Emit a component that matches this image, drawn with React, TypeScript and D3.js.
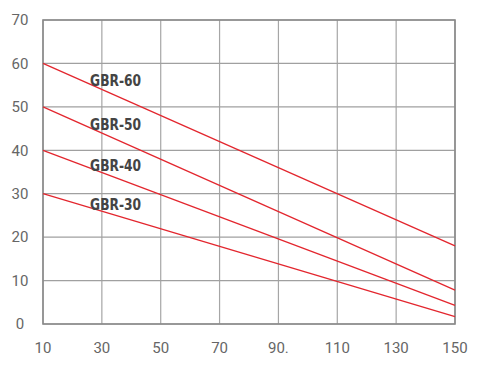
import React, { useEffect, useRef } from "react";
import * as d3 from "d3";

const xTicks = [10, 30, 50, 70, 90, 110, 130, 150];
const xTickLabels = ["10", "30", "50", "70", "90.", "110", "130", "150"];
const yTicks = [0, 10, 20, 30, 40, 50, 60, 70];

const seriesNames = ["GBR-60", "GBR-50", "GBR-40", "GBR-30"];
const startValues = [60, 50, 40, 30]; // at x = 10
const endValues = [18, 7.8, 4.3, 1.7]; // at x = 150
const labelX = [34.5, 34.5, 34.5, 34.5];
const labelY = [54.8, 44.7, 35.2, 26.2];

export default function App() {
  const svgRef = useRef<SVGSVGElement>(null);

  useEffect(() => {
    if (!svgRef.current) return;
    const svg = d3.select(svgRef.current);
    svg.selectAll("*").remove();

    const width = 483;
    const height = 365;
    const margin = { top: 20, right: 28, bottom: 41, left: 43 };
    const innerWidth = width - margin.left - margin.right;
    const innerHeight = height - margin.top - margin.bottom;

    const x = d3.scaleLinear().domain([10, 150]).range([0, innerWidth]);
    const y = d3.scaleLinear().domain([0, 70]).range([innerHeight, 0]);

    const g = svg
      .append("g")
      .attr("transform", `translate(${margin.left},${margin.top})`);

    // grid
    g.selectAll(".vgrid")
      .data(xTicks)
      .join("line")
      .attr("x1", (d) => x(d))
      .attr("x2", (d) => x(d))
      .attr("y1", 0)
      .attr("y2", innerHeight)
      .attr("stroke", "#a6a6a6")
      .attr("stroke-width", 1.2);

    g.selectAll(".hgrid")
      .data(yTicks)
      .join("line")
      .attr("x1", 0)
      .attr("x2", innerWidth)
      .attr("y1", (d) => y(d))
      .attr("y2", (d) => y(d))
      .attr("stroke", "#a0a0a0")
      .attr("stroke-width", 1.2);

    // frame
    g.append("rect")
      .attr("x", 0)
      .attr("y", 0)
      .attr("width", innerWidth)
      .attr("height", innerHeight)
      .attr("fill", "none")
      .attr("stroke", "#8a8a8a")
      .attr("stroke-width", 1.6);

    // axes labels
    const tickFont = "Roboto, 'DejaVu Sans', sans-serif";
    g.selectAll(".ylab")
      .data(yTicks)
      .join("text")
      .attr("x", -23)
      .attr("y", (d) => y(d))
      .attr("dy", "0.35em")
      .attr("text-anchor", "middle")
      .attr("font-family", tickFont)
      .attr("font-size", 15)
      .attr("fill", "#666")
      .text((d) => String(d));

    g.selectAll(".xlab")
      .data(xTicks)
      .join("text")
      .attr("x", (d) => x(d))
      .attr("y", innerHeight + 29)
      .attr("text-anchor", "middle")
      .attr("font-family", tickFont)
      .attr("font-size", 15)
      .attr("fill", "#666")
      .text((_d, i) => xTickLabels[i]);

    // series lines
    const line = d3
      .line<[number, number]>()
      .x((d) => x(d[0]))
      .y((d) => y(d[1]));

    seriesNames.forEach((name, i) => {
      const pts: [number, number][] = [
        [10, startValues[i]],
        [150, endValues[i]],
      ];
      g.append("path")
        .datum(pts)
        .attr("d", line)
        .attr("fill", "none")
        .attr("stroke", "#e3262e")
        .attr("stroke-width", 1.3);

      g.append("text")
        .attr("x", x(labelX[i]) - 25)
        .attr("y", y(labelY[i]))
        .attr("font-family", "'DejaVu Sans Condensed', 'DejaVu Sans', sans-serif")
        .attr("font-weight", "bold")
        .attr("font-size", 15)
        .attr("textLength", 51)
        .attr("lengthAdjust", "spacingAndGlyphs")
        .attr("fill", "#444")
        .text(name);
    });
  }, []);

  return (
    <svg
      ref={svgRef}
      width={483}
      height={365}
      style={{ position: "absolute", left: 0, top: 0, background: "#fff" }}
    />
  );
}
